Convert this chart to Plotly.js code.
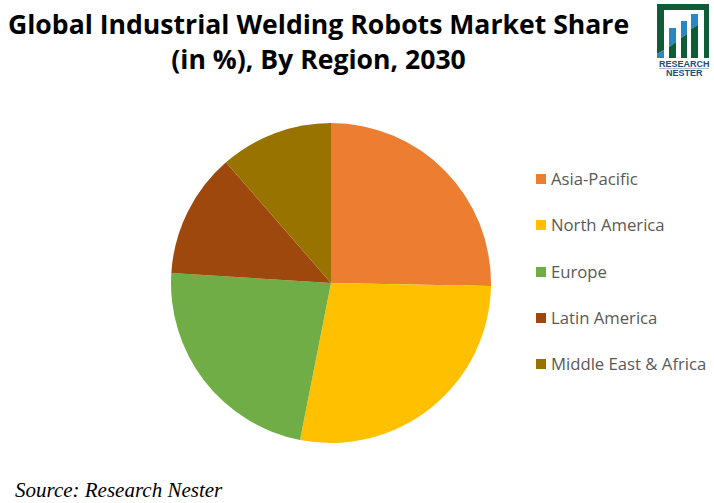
<!DOCTYPE html>
<html><head><meta charset="utf-8">
<script src="https://cdn.plot.ly/plotly-3.0.1.min.js"></script>
<style>html,body{margin:0;padding:0;background:#fff}</style></head>
<body><div id="c" style="width:714px;height:503px"></div>
<script>
const regions=["Asia-Pacific","North America","Europe","Latin America","Middle East & Africa"];
const shares=[25.3,27.8,22.9,12.6,11.4];
const colors=["#ED7D31","#FFC000","#70AD47","#9E480E","#997300"];
const titleText="Global Industrial Welding Robots Market Share<br>(in %), By Region, 2030";
const sourceText="Source: Research Nester";
const logoWords=["RESEARCH","NESTER"];
const W=714,H=503;
const px=x=>x/W, py=y=>1-y/H;
const legendY=[178,224,271,317,363];
const annotations=[
 {text:titleText,x:px(318),y:py(41),xref:'paper',yref:'paper',showarrow:false,xanchor:'center',yanchor:'middle',font:{family:'Open Sans, sans-serif',size:26.6,color:'#000',weight:700}},
 {text:sourceText,x:px(13),y:py(490),xref:'paper',yref:'paper',showarrow:false,xanchor:'left',yanchor:'middle',font:{family:'Liberation Serif, serif',size:21,color:'#000',style:'italic'}},
 {text:logoWords[0],x:px(684),y:py(64),xref:'paper',yref:'paper',showarrow:false,xanchor:'center',yanchor:'middle',font:{family:'Liberation Sans',size:9,color:'#1f4e79',weight:700}},
 {text:logoWords[1],x:px(684),y:py(73),xref:'paper',yref:'paper',showarrow:false,xanchor:'center',yanchor:'middle',font:{family:'Liberation Sans',size:9,color:'#1f4e79',weight:700}}
];
const pts=a=>'M'+a.map(p=>px(p[0])+','+py(p[1])).join('L')+'Z';
const shapes=[];
regions.forEach((r,i)=>{
 annotations.push({text:r,x:px(549),y:py(legendY[i]),xref:'paper',yref:'paper',showarrow:false,xanchor:'left',yanchor:'middle',font:{family:'Open Sans, sans-serif',size:16.7,color:'#595959'}});
 shapes.push({type:'rect',xref:'paper',yref:'paper',x0:px(536),x1:px(546),y0:py(legendY[i]-4),y1:py(legendY[i]+6),fillcolor:colors[i],line:{width:0}});
});
const green='#0f5c36', blue='#2a87c4';
const poly=(a,c)=>shapes.push({type:'path',xref:'paper',yref:'paper',path:pts(a),fillcolor:c,line:{width:0}});
poly([[657,4],[709,4],[709,58],[704,58],[704,10],[664,10],[664,50],[657,54]],green);
poly([[657,54],[664,50],[664,58],[657,58]],blue);
poly([[669,28],[676,28],[676,42],[669,47]],blue);
poly([[669,47],[676,42],[676,58],[669,58]],green);
poly([[681,21],[687,21],[687,34],[681,38]],blue);
poly([[681,38],[687,34],[687,58],[681,58]],green);
poly([[691,14],[698,14],[698,25],[691,29]],blue);
poly([[691,29],[698,25],[698,58],[691,58]],green);
shapes.push({type:'line',xref:'paper',yref:'paper',x0:px(659),x1:px(709),y0:py(68.5),y1:py(68.5),line:{color:'#b8bcc4',width:1}});
Plotly.newPlot('c',[{type:'pie',labels:regions,values:shares,sort:false,direction:'clockwise',rotation:0,
 marker:{colors:colors,line:{width:0}},textinfo:'none',hoverinfo:'none',domain:{x:[px(171),px(491)],y:[py(443),py(123)]}}],
 {width:W,height:H,margin:{l:0,r:0,t:0,b:0},paper_bgcolor:'#fff',annotations:annotations,shapes:shapes,showlegend:false},
 {displayModeBar:false});
</script></body></html>
